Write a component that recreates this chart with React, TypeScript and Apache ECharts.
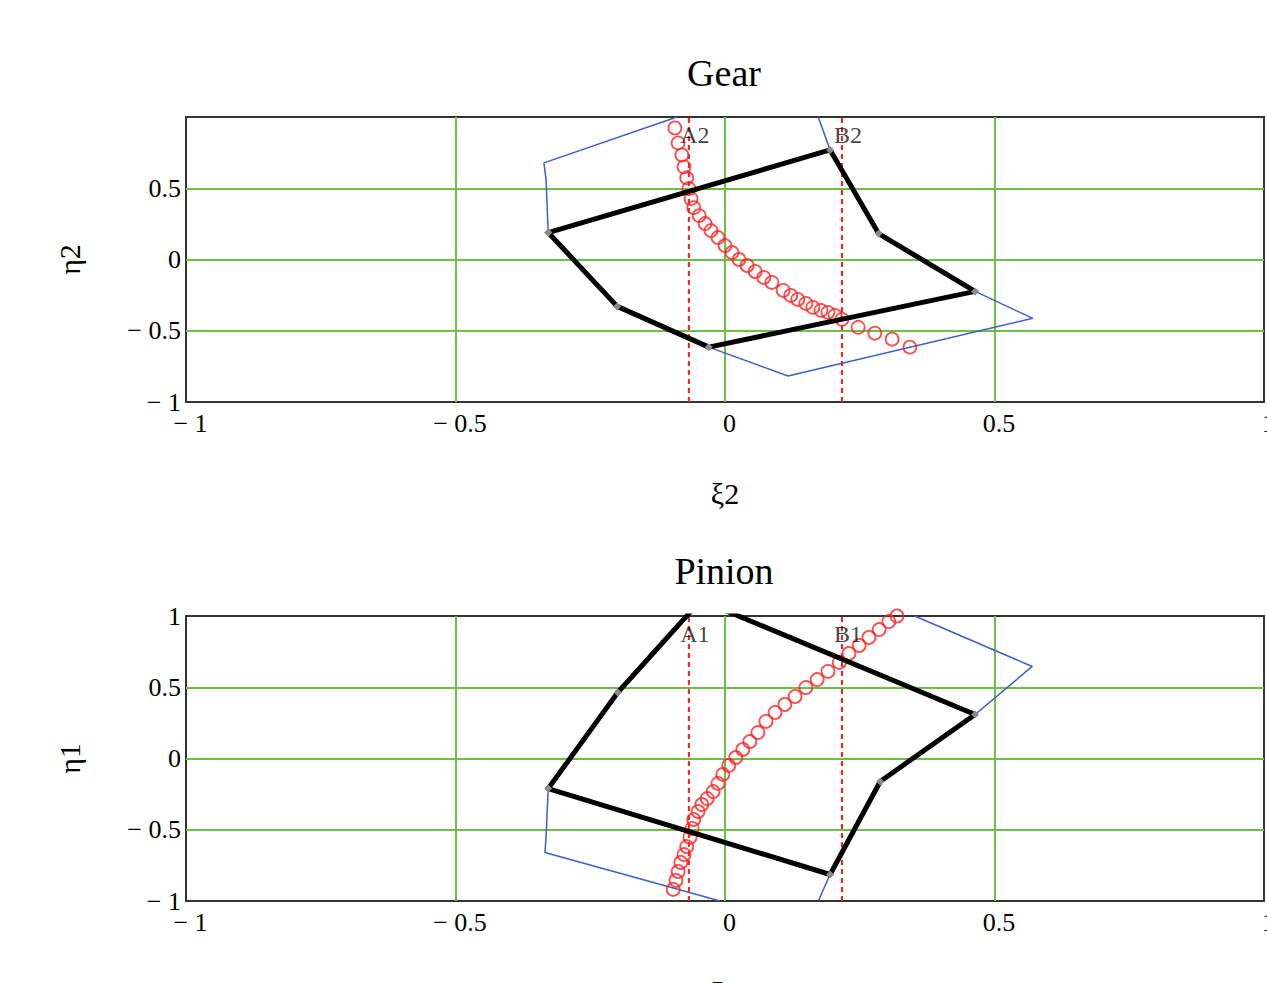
import React, { useEffect, useRef } from "react";
import * as echarts from "echarts";

const FONT = '"Liberation Serif", "Times New Roman", serif';

// Axis ticks
const axisTicks = [-1, -0.5, 0, 0.5, 1];

// ---- Gear (top) ----
const gearTooth: number[][] = [
  [-0.328, 0.189], [0.195, 0.769], [0.285, 0.182], [0.464, -0.224],
  [-0.03, -0.615], [-0.2, -0.329], [-0.328, 0.189],
];
const gearBlueLeft: number[][] = [[-0.089, 1.0], [-0.336, 0.678], [-0.332, 0.56], [-0.328, 0.189]];
const gearBlueRight: number[][] = [[0.464, -0.224], [0.571, -0.413], [0.117, -0.818], [-0.03, -0.615]];
const gearBlueTop: number[][] = [[0.173, 1.0], [0.195, 0.769]];
const gearContact: number[][] = [
  [-0.093, 0.923], [-0.087, 0.818], [-0.08, 0.734], [-0.076, 0.65], [-0.071, 0.573],
  [-0.067, 0.497], [-0.063, 0.427], [-0.058, 0.364], [-0.048, 0.308], [-0.037, 0.252],
  [-0.026, 0.203], [-0.013, 0.154], [0.0, 0.098], [0.013, 0.049], [0.026, 0.0],
  [0.041, -0.042], [0.056, -0.084], [0.072, -0.126], [0.087, -0.161], [0.108, -0.217],
  [0.122, -0.252], [0.135, -0.28], [0.15, -0.308], [0.163, -0.336], [0.178, -0.357],
  [0.191, -0.371], [0.204, -0.392], [0.217, -0.42], [0.247, -0.476], [0.278, -0.517],
  [0.31, -0.559], [0.343, -0.615],
];
const gearMarks = [
  { name: "A2", x: -0.067 },
  { name: "B2", x: 0.217 },
];

// ---- Pinion (bottom) ----
const pinionTooth: number[][] = [
  [-0.045, 1.11], [0.464, 0.309], [0.288, -0.161], [0.195, -0.814],
  [-0.328, -0.211], [-0.199, 0.463], [-0.045, 1.11],
];
const pinionBlueLeft: number[][] = [[-0.328, -0.211], [-0.332, -0.55], [-0.334, -0.66], [-0.009, -1.0]];
const pinionBlueRight: number[][] = [[0.352, 1.0], [0.57, 0.646], [0.464, 0.309]];
const pinionBlueBottom: number[][] = [[0.195, -0.814], [0.173, -1.0]];
const pinionContact: number[][] = [
  [-0.096, -0.919], [-0.091, -0.856], [-0.087, -0.793], [-0.082, -0.73], [-0.076, -0.674],
  [-0.071, -0.618], [-0.065, -0.554], [-0.061, -0.491], [-0.058, -0.428], [-0.05, -0.372],
  [-0.043, -0.323], [-0.033, -0.281], [-0.022, -0.232], [-0.013, -0.175], [-0.004, -0.112],
  [0.007, -0.049], [0.02, 0.007], [0.033, 0.063], [0.046, 0.119], [0.061, 0.182],
  [0.076, 0.26], [0.093, 0.323], [0.111, 0.379], [0.13, 0.435], [0.15, 0.498],
  [0.171, 0.554], [0.191, 0.611], [0.212, 0.674], [0.23, 0.737], [0.249, 0.793],
  [0.267, 0.849], [0.286, 0.905], [0.304, 0.961], [0.319, 1.0],
];
const pinionMarks = [
  { name: "A1", x: -0.067 },
  { name: "B1", x: 0.217 },
];
const markLabelY = 0.875;

const fmt = (v: number) => (v < 0 ? "\u2212 " + Math.abs(v) : String(v));

function plotSeries(idx: number, tooth: number[][], blues: number[][][], contact: number[][], marks: { name: string; x: number }[]) {
  const s: any[] = [];
  blues.forEach((b) =>
    s.push({
      type: "line", xAxisIndex: idx, yAxisIndex: idx, data: b, showSymbol: false,
      lineStyle: { color: "#3a5fc8", width: 1.5 }, z: 2,
    })
  );
  marks.forEach((m) =>
    s.push({
      type: "line", xAxisIndex: idx, yAxisIndex: idx, data: [[m.x, -1], [m.x, 1]], showSymbol: false,
      lineStyle: { color: "#ff1a1a", width: 2, type: [5, 4] }, z: 3,
    })
  );
  s.push({
    type: "scatter", xAxisIndex: idx, yAxisIndex: idx, data: contact, symbol: "circle", symbolSize: 13,
    itemStyle: { color: "rgba(0,0,0,0)", borderColor: "#ff2020", borderWidth: 1.8 }, z: 4,
  });
  s.push({
    type: "line", xAxisIndex: idx, yAxisIndex: idx, data: tooth, showSymbol: true, symbol: "diamond", symbolSize: 8,
    itemStyle: { color: "#8a8a8a" }, lineStyle: { color: "#000", width: 5 }, z: 5,
  });
  s.push({
    type: "scatter", xAxisIndex: idx, yAxisIndex: idx, symbolSize: 1,
    itemStyle: { color: "rgba(0,0,0,0)" }, z: 6,
    data: marks.map((m) => ({ value: [m.x, markLabelY], name: m.name })),
    label: {
      show: true, position: "inside", offset: [6, 0], formatter: "{b}",
      fontFamily: FONT, fontSize: 24, color: "#111",
    },
  });
  return s;
}

function xAxis(idx: number, name: string) {
  return {
    type: "value", gridIndex: idx, min: -1, max: 1, interval: 0.5,
    axisLine: { show: false }, axisTick: { show: false },
    axisLabel: { fontFamily: FONT, fontSize: 26, color: "#000", margin: 8, formatter: fmt, padding: [0, 0, 0, 9] },
    splitLine: { show: true, showMinLine: false, showMaxLine: false, lineStyle: { color: "#6dbf45", width: 2 } },
    name, nameLocation: "middle", nameGap: 76,
    nameTextStyle: { fontFamily: FONT, fontSize: 30, color: "#000" },
  };
}
function yAxis(idx: number, name: string, showMax: boolean) {
  return {
    type: "value", gridIndex: idx, min: -1, max: 1, interval: 0.5,
    axisLine: { show: false }, axisTick: { show: false },
    axisLabel: { fontFamily: FONT, fontSize: 26, color: "#000", margin: 5, formatter: fmt, showMaxLabel: showMax },
    splitLine: { show: true, showMinLine: false, showMaxLine: false, lineStyle: { color: "#6dbf45", width: 2 } },
    name, nameLocation: "middle", nameGap: 102, nameRotate: 90,
    nameTextStyle: { fontFamily: FONT, fontSize: 30, color: "#000" },
  };
}

export default function App() {
  const ref = useRef<HTMLDivElement>(null);
  useEffect(() => {
    if (!ref.current) return;
    const chart = echarts.init(ref.current, undefined, { renderer: "svg" });
    chart.setOption({
      animation: false,
      backgroundColor: "#fff",
      graphic: [
        { type: "text", x: 724, y: 54, style: { text: "Gear", fontFamily: FONT, fontSize: 38, fill: "#000", align: "center", verticalAlign: "top" } },
        { type: "text", x: 724, y: 552, style: { text: "Pinion", fontFamily: FONT, fontSize: 38, fill: "#000", align: "center", verticalAlign: "top" } },
      ],
      grid: [
        { left: 186, top: 117, width: 1078, height: 285, show: true, borderColor: "#333", borderWidth: 2 },
        { left: 186, top: 616, width: 1078, height: 285, show: true, borderColor: "#333", borderWidth: 2 },
      ],
      xAxis: [xAxis(0, "ξ2"), xAxis(1, "ξ1")],
      yAxis: [yAxis(0, "η2", false), yAxis(1, "η1", true)],
      series: [
        ...plotSeries(0, gearTooth, [gearBlueLeft, gearBlueRight, gearBlueTop], gearContact, gearMarks),
        ...plotSeries(1, pinionTooth, [pinionBlueLeft, pinionBlueRight, pinionBlueBottom], pinionContact, pinionMarks),
      ],
    });
    return () => chart.dispose();
  }, []);
  return (
    <div style={{ position: "fixed", left: 0, top: 0, width: 1267, height: 983, overflow: "hidden", background: "#fff" }}>
      <div ref={ref} style={{ width: 1290, height: 1010 }} />
    </div>
  );
}
